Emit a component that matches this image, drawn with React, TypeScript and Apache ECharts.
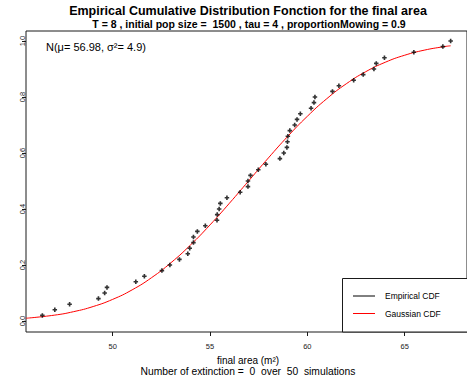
import React, { useEffect, useRef } from "react";
import * as echarts from "echarts";

// Empirical CDF points: final area values (sorted) and cumulative proportions
const areaValues: number[] = [
  46.39, 47.03, 47.79, 49.27, 49.59, 49.71, 51.19, 51.63, 52.53, 52.94,
  53.43, 53.86, 53.96, 54.15, 54.15, 54.35, 54.76, 55.36, 55.37, 55.47,
  55.53, 55.87, 56.55, 56.95, 56.95, 57.08, 57.48, 57.87, 58.59, 58.79,
  58.95, 58.98, 59.0, 59.1, 59.35, 59.47, 59.64, 60.19, 60.34, 60.39,
  61.29, 61.62, 62.38, 62.87, 63.42, 63.54, 63.96, 65.47, 66.96, 67.36,
];
const cdfValues: number[] = [
  0.02, 0.04, 0.06, 0.08, 0.1, 0.12, 0.14, 0.16, 0.18, 0.2,
  0.22, 0.24, 0.26, 0.28, 0.3, 0.32, 0.34, 0.36, 0.38, 0.4,
  0.42, 0.44, 0.46, 0.48, 0.5, 0.52, 0.54, 0.56, 0.58, 0.6,
  0.62, 0.64, 0.66, 0.68, 0.7, 0.72, 0.74, 0.76, 0.78, 0.8,
  0.82, 0.84, 0.86, 0.88, 0.9, 0.92, 0.94, 0.96, 0.98, 1.0,
];

// Gaussian CDF curve
const curveX: number[] = [
  45.55, 47, 48, 49, 50, 51, 52, 53, 54, 55, 56, 57, 58, 59, 60, 61, 62, 63,
  64, 65, 66, 67, 67.36,
];
const curveY: number[] = [
  0.0098, 0.0208, 0.0334, 0.0517, 0.0772, 0.1112, 0.1548, 0.2084, 0.2716,
  0.3431, 0.4207, 0.5016, 0.5824, 0.6598, 0.7311, 0.794, 0.8472, 0.8904,
  0.924, 0.9492, 0.9672, 0.9796, 0.9829,
];

const xTicks: number[] = [50, 55, 60, 65];
const yTicks: number[] = [0, 0.2, 0.4, 0.6, 0.8, 1.0];

const FONT = "'Liberation Sans', Arial, Helvetica, sans-serif";

export default function App() {
  const ref = useRef<HTMLDivElement>(null);
  useEffect(() => {
    if (!ref.current) return;
    const chart = echarts.init(ref.current, undefined, { renderer: "svg" });
    const empirical = areaValues.map((v, i) => [v, cdfValues[i]]);
    const gaussian = curveX.map((v, i) => [v, curveY[i]]);
    chart.setOption({
      animation: false,
      backgroundColor: "#ffffff",
      textStyle: { fontFamily: FONT },
      grid: {
        left: 26,
        right: -2,
        top: 31,
        bottom: 46,
        show: true,
        borderColor: "#1a1a1a",
        borderWidth: 1,
        backgroundColor: "transparent",
      },
      xAxis: {
        type: "value",
        min: 45.55,
        max: 68.2,
        axisLine: { show: false, onZero: false },
        splitLine: { show: false },
        axisTick: {
          show: true,
          inside: false,
          customValues: xTicks,
          length: 4,
          lineStyle: { color: "#1a1a1a" },
        },
        axisLabel: {
          customValues: xTicks,
          formatter: (v: number) => String(v),
          fontSize: 7.5,
          color: "#222",
          margin: 10,
          fontFamily: FONT,
        },
      },
      yAxis: {
        type: "value",
        min: -0.0393,
        max: 1.0357,
        axisLine: { show: false, onZero: false },
        splitLine: { show: false },
        axisTick: {
          show: true,
          inside: false,
          customValues: yTicks,
          length: 4,
          lineStyle: { color: "#1a1a1a" },
        },
        axisLabel: {
          customValues: yTicks,
          formatter: (v: number) => v.toFixed(1),
          rotate: 90,
          fontSize: 7.5,
          color: "#222",
          margin: 0,
          fontFamily: FONT,
        },
      },
      series: [
        {
          name: "Gaussian CDF",
          type: "line",
          data: gaussian,
          smooth: true,
          showSymbol: false,
          lineStyle: { color: "#ff0000", width: 1 },
          z: 2,
        },
        {
          name: "Empirical CDF",
          type: "scatter",
          data: empirical,
          symbol: "path://M1.6,0H3.4V1.6H5V3.4H3.4V5H1.6V3.4H0V1.6H1.6Z",
          symbolSize: 4.5,
          itemStyle: { color: "#000000" },
          z: 3,
        },
      ],
      graphic: [
        {
          type: "text",
          style: {
            x: 248,
            y: 11,
            text: "Empirical Cumulative Distribution Fonction for the final area",
            align: "center",
            verticalAlign: "middle",
            font: `bold 12.5px ${FONT}`,
            fill: "#000",
          },
        },
        {
          type: "text",
          style: {
            x: 249,
            y: 23.5,
            text: "T = 8 , initial pop size =  1500 , tau = 4 , proportionMowing = 0.9",
            align: "center",
            verticalAlign: "middle",
            font: `bold 10.5px ${FONT}`,
            fill: "#000",
          },
        },
        {
          type: "text",
          style: {
            x: 46,
            y: 47,
            text: "N(μ= 56.98, σ²= 4.9)",
            align: "left",
            verticalAlign: "middle",
            font: `11px ${FONT}`,
            fill: "#000",
          },
        },
        {
          type: "text",
          style: {
            x: 248,
            y: 360.5,
            text: "final area (m²)",
            align: "center",
            verticalAlign: "middle",
            font: `10px ${FONT}`,
            fill: "#000",
          },
        },
        {
          type: "text",
          style: {
            x: 248,
            y: 371.5,
            text: "Number of extinction =  0  over  50  simulations",
            align: "center",
            verticalAlign: "middle",
            font: `10.3px ${FONT}`,
            fill: "#000",
          },
        },
        {
          type: "rect",
          shape: { x: 342.5, y: 278.5, width: 140, height: 53.5 },
          style: { fill: "#ffffff", stroke: "#1a1a1a", lineWidth: 1 },
          z: 10,
        },
        {
          type: "line",
          shape: { x1: 353, y1: 296, x2: 375, y2: 296 },
          style: { stroke: "#000000", lineWidth: 1 },
          z: 11,
        },
        {
          type: "line",
          shape: { x1: 353, y1: 313.5, x2: 375, y2: 313.5 },
          style: { stroke: "#ff0000", lineWidth: 1 },
          z: 11,
        },
        {
          type: "text",
          style: {
            x: 385,
            y: 296,
            text: "Empirical CDF",
            align: "left",
            verticalAlign: "middle",
            font: `8.5px ${FONT}`,
            fill: "#000",
          },
          z: 11,
        },
        {
          type: "text",
          style: {
            x: 385,
            y: 313.5,
            text: "Gaussian CDF",
            align: "left",
            verticalAlign: "middle",
            font: `8.5px ${FONT}`,
            fill: "#000",
          },
          z: 11,
        },
      ],
    });
    return () => chart.dispose();
  }, []);
  return (
    <div
      ref={ref}
      style={{ position: "absolute", left: 0, top: 0, width: 467, height: 378 }}
    />
  );
}
